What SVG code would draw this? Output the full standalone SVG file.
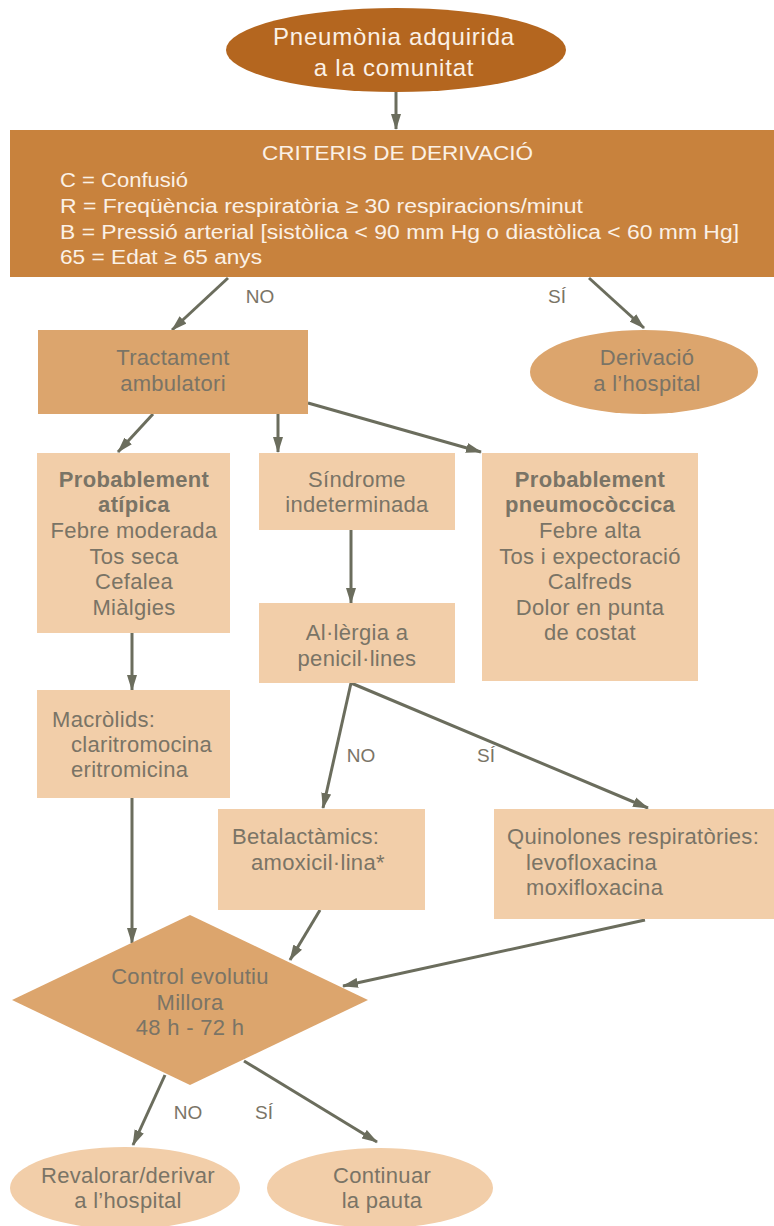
<svg xmlns="http://www.w3.org/2000/svg" width="774" height="1226" viewBox="0 0 774 1226">
<style>
text{font-family:"Liberation Sans","Open Sans",sans-serif;}
.w{fill:#fbf1e6;}
.g{fill:#7a7466;font-size:22px;letter-spacing:0.3px;text-anchor:middle;}
.gl{fill:#7a7466;font-size:22px;letter-spacing:0.3px;}
.b{font-weight:bold;}
.lab{fill:#7a7466;font-size:19px;text-anchor:middle;}
.dk{fill:#b4661f;}
.hd{fill:#c8823d;}
.md{fill:#dca56d;}
.lt{fill:#f2cea9;}
.cn line{stroke:#6b6d5d;stroke-width:3;marker-end:url(#ah);}
</style>
<defs>
<marker id="ah" markerUnits="userSpaceOnUse" markerWidth="16" markerHeight="11" refX="15" refY="5.5" orient="auto">
<path d="M0,0.5 L16,5.5 L0,10.5 z" fill="#6b6d5d"/>
</marker>
</defs>
<rect width="774" height="1226" fill="#ffffff"/>
<g id="connectors" class="cn">
<line x1="396" y1="92" x2="396" y2="129"/>
<line x1="228" y1="278" x2="172" y2="330"/>
<line x1="589" y1="278" x2="644" y2="328"/>
<line x1="153" y1="414" x2="118" y2="452"/>
<line x1="278" y1="414" x2="278" y2="452"/>
<line x1="308" y1="403" x2="481" y2="452"/>
<line x1="351" y1="530" x2="351" y2="603"/>
<line x1="132" y1="633" x2="132" y2="690"/>
<line x1="351" y1="683" x2="323" y2="808"/>
<line x1="351" y1="683" x2="648" y2="808"/>
<line x1="132" y1="798" x2="132" y2="943"/>
<line x1="320" y1="910" x2="290" y2="960"/>
<line x1="645" y1="920" x2="343" y2="986"/>
<line x1="165" y1="1075" x2="133" y2="1145"/>
<line x1="244" y1="1061" x2="377" y2="1142"/>
</g>
<g id="labels">
<text class="lab" x="260" y="303">NO</text>
<text class="lab" x="557" y="303">SÍ</text>
<text class="lab" x="361" y="762">NO</text>
<text class="lab" x="486" y="762">SÍ</text>
<text class="lab" x="188" y="1119">NO</text>
<text class="lab" x="264" y="1119">SÍ</text>
</g>
<g id="start">
<ellipse class="dk" cx="396" cy="50" rx="170" ry="42"/>
<text class="w" x="394" y="45" font-size="24" letter-spacing="0.8" text-anchor="middle">Pneumònia adquirida</text>
<text class="w" x="394" y="76" font-size="24" letter-spacing="0.8" text-anchor="middle">a la comunitat</text>
</g>
<g id="criteris">
<rect class="hd" x="10" y="130" width="764" height="147"/>
<text class="w" x="262" y="160" font-size="20" textLength="271" lengthAdjust="spacingAndGlyphs">CRITERIS DE DERIVACIÓ</text>
<text class="w" x="60" y="187" font-size="20" textLength="128" lengthAdjust="spacingAndGlyphs">C = Confusió</text>
<text class="w" x="60" y="213" font-size="20" textLength="523" lengthAdjust="spacingAndGlyphs">R = Freqüència respiratòria ≥ 30 respiracions/minut</text>
<text class="w" x="60" y="239" font-size="20" textLength="679" lengthAdjust="spacingAndGlyphs">B = Pressió arterial [sistòlica &lt; 90 mm Hg o diastòlica &lt; 60 mm Hg]</text>
<text class="w" x="60" y="264" font-size="20" textLength="202" lengthAdjust="spacingAndGlyphs">65 = Edat ≥ 65 anys</text>
</g>
<g id="tractament">
<rect class="md" x="38" y="330" width="270" height="84"/>
<text class="g" x="173" y="365">Tractament</text>
<text class="g" x="173" y="391">ambulatori</text>
</g>
<g id="derivacio">
<ellipse class="md" cx="644" cy="372" rx="114" ry="42"/>
<text class="g" x="647" y="365">Derivació</text>
<text class="g" x="647" y="391">a l’hospital</text>
</g>
<g id="atipica">
<rect class="lt" x="37" y="453" width="193" height="180"/>
<text class="g b" x="134" y="487">Probablement</text>
<text class="g b" x="134" y="512">atípica</text>
<text class="g" x="134" y="538">Febre moderada</text>
<text class="g" x="134" y="564">Tos seca</text>
<text class="g" x="134" y="589">Cefalea</text>
<text class="g" x="134" y="615">Miàlgies</text>
</g>
<g id="sindrome">
<rect class="lt" x="259" y="453" width="196" height="77"/>
<text class="g" x="357" y="487">Síndrome</text>
<text class="g" x="357" y="512">indeterminada</text>
</g>
<g id="pneumococcica">
<rect class="lt" x="482" y="453" width="216" height="228"/>
<text class="g b" x="590" y="487">Probablement</text>
<text class="g b" x="590" y="512">pneumocòccica</text>
<text class="g" x="590" y="538">Febre alta</text>
<text class="g" x="590" y="564">Tos i expectoració</text>
<text class="g" x="590" y="589">Calfreds</text>
<text class="g" x="590" y="615">Dolor en punta</text>
<text class="g" x="590" y="640">de costat</text>
</g>
<g id="allergia">
<rect class="lt" x="259" y="603" width="196" height="80"/>
<text class="g" x="357" y="640">Al·lèrgia a</text>
<text class="g" x="357" y="666">penicil·lines</text>
</g>
<g id="macrolids">
<rect class="lt" x="37" y="690" width="193" height="108"/>
<text class="gl" x="52" y="727">Macròlids:</text>
<text class="gl" x="71" y="752">claritromocina</text>
<text class="gl" x="71" y="777">eritromicina</text>
</g>
<g id="betalactamics">
<rect class="lt" x="218" y="809" width="207" height="101"/>
<text class="gl" x="232" y="844">Betalactàmics:</text>
<text class="gl" x="251" y="870">amoxicil·lina*</text>
</g>
<g id="quinolones">
<rect class="lt" x="494" y="809" width="280" height="110"/>
<text class="gl" x="507" y="844">Quinolones respiratòries:</text>
<text class="gl" x="526" y="870">levofloxacina</text>
<text class="gl" x="526" y="895">moxifloxacina</text>
</g>
<g id="control">
<polygon class="md" points="190,915 368,1000 190,1085 12,1000"/>
<text class="g" x="190" y="984">Control evolutiu</text>
<text class="g" x="190" y="1010">Millora</text>
<text class="g" x="190" y="1035">48 h - 72 h</text>
</g>
<g id="revalorar">
<ellipse class="lt" cx="125" cy="1188" rx="115" ry="41"/>
<text class="g" x="128" y="1183">Revalorar/derivar</text>
<text class="g" x="128" y="1208">a l’hospital</text>
</g>
<g id="continuar">
<ellipse class="lt" cx="380" cy="1188" rx="113" ry="40"/>
<text class="g" x="382" y="1183">Continuar</text>
<text class="g" x="382" y="1208">la pauta</text>
</g>
</svg>
